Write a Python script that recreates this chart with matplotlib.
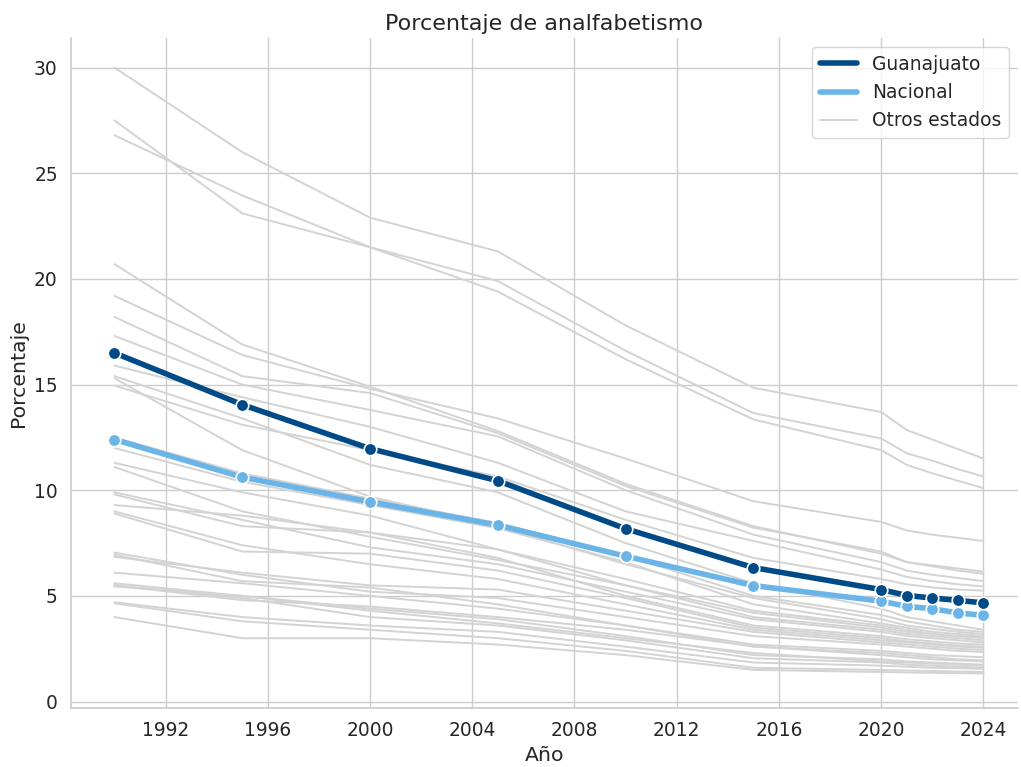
import matplotlib
matplotlib.use("Agg")
import matplotlib.pyplot as plt
import seaborn as sns

years = [1990, 1995, 2000, 2005, 2010, 2015, 2020, 2021, 2022, 2023, 2024]

guanajuato = [16.5, 14.05, 11.97, 10.45, 8.18, 6.34, 5.30, 5.02, 4.90, 4.79, 4.67]
nacional = [12.4, 10.62, 9.45, 8.35, 6.88, 5.49, 4.75, 4.51, 4.39, 4.20, 4.08]

otros_estados = [
    [30.0, 26.0, 22.9, 21.3, 17.8, 14.85, 13.7, 12.85, 12.4, 11.95, 11.5],
    [26.8, 23.95, 21.5, 19.9, 16.6, 13.65, 12.45, 11.75, 11.4, 11.0, 10.65],
    [27.5, 23.1, 21.5, 19.4, 16.2, 13.35, 11.9, 11.2, 10.8, 10.45, 10.1],
    [20.7, 16.9, 14.9, 12.8, 10.3, 8.3, 7.0, 6.6, 6.4, 6.2, 6.05],
    [19.2, 16.4, 14.8, 13.4, 11.5, 9.48, 8.5, 8.1, 7.9, 7.75, 7.6],
    [18.2, 15.4, 14.6, 12.7, 10.2, 8.23, 7.1, 6.6, 6.45, 6.3, 6.15],
    [17.3, 15.0, 13.8, 12.55, 10.0, 7.9, 6.6, 6.2, 6.0, 5.85, 5.7],
    [15.9, 14.4, 13.0, 11.3, 9.0, 7.6, 6.25, 5.9, 5.7, 5.55, 5.45],
    [14.95, 13.1, 11.9, 10.65, 8.6, 6.8, 5.8, 5.55, 5.4, 5.3, 5.25],
    [15.4, 13.4, 11.2, 9.9, 7.5, 5.6, 4.4, 4.0, 3.8, 3.6, 3.4],
    [15.3, 11.9, 9.7, 8.3, 6.5, 4.9, 3.9, 3.6, 3.45, 3.3, 3.2],
    [12.5, 10.8, 9.6, 8.45, 6.9, 5.0, 4.1, 3.8, 3.6, 3.4, 3.3],
    [12.0, 10.4, 9.3, 8.2, 6.6, 4.6, 3.7, 3.5, 3.3, 3.2, 3.1],
    [11.3, 9.9, 8.8, 7.2, 5.8, 4.3, 3.6, 3.4, 3.2, 3.1, 3.0],
    [11.1, 9.0, 7.8, 6.7, 5.5, 4.0, 3.4, 3.2, 3.1, 3.0, 2.9],
    [9.9, 8.6, 7.3, 6.5, 5.2, 3.9, 3.3, 3.1, 3.0, 2.9, 2.8],
    [9.8, 8.3, 8.0, 6.8, 5.0, 3.6, 3.1, 2.95, 2.85, 2.75, 2.7],
    [9.3, 8.8, 8.0, 7.2, 5.5, 4.2, 3.5, 3.3, 3.2, 3.1, 3.05],
    [9.0, 7.4, 6.5, 5.8, 4.6, 3.4, 2.9, 2.8, 2.7, 2.6, 2.55],
    [8.9, 7.1, 7.0, 6.2, 4.9, 3.5, 3.0, 2.85, 2.75, 2.65, 2.6],
    [7.05, 6.0, 5.2, 4.9, 4.0, 3.1, 2.7, 2.6, 2.5, 2.4, 2.35],
    [6.95, 5.7, 5.4, 4.6, 3.6, 2.7, 2.4, 2.3, 2.2, 2.15, 2.1],
    [6.85, 6.1, 5.5, 5.3, 4.3, 3.3, 2.8, 2.7, 2.6, 2.5, 2.45],
    [6.1, 5.6, 5.0, 4.4, 3.6, 2.6, 2.3, 2.2, 2.1, 2.0, 1.95],
    [5.6, 5.0, 4.4, 3.9, 3.1, 2.2, 2.0, 1.9, 1.85, 1.8, 1.75],
    [5.5, 4.8, 4.5, 4.0, 3.4, 2.62, 2.2, 2.1, 2.0, 1.95, 1.9],
    [5.45, 5.0, 4.3, 3.7, 3.0, 2.3, 1.9, 1.85, 1.8, 1.75, 1.7],
    [5.5, 4.9, 4.0, 3.6, 2.9, 2.05, 1.85, 1.75, 1.7, 1.65, 1.6],
    [4.7, 4.0, 3.6, 3.3, 2.6, 1.85, 1.7, 1.65, 1.6, 1.58, 1.55],
    [4.65, 3.8, 3.4, 3.0, 2.4, 1.6, 1.5, 1.47, 1.45, 1.42, 1.4],
    [4.0, 3.0, 3.0, 2.7, 2.2, 1.5, 1.4, 1.38, 1.36, 1.35, 1.33],
]

xticks = [1992, 1996, 2000, 2004, 2008, 2012, 2016, 2020, 2024]
yticks = [0, 5, 10, 15, 20, 25, 30]

sns.set_theme(style="whitegrid", font_scale=1.22)
plt.rcParams["font.family"] = ["DejaVu Sans"]

fig = plt.figure(figsize=(10.21, 7.67), dpi=100)
ax = fig.add_axes([0.0695, 0.077, 0.9275, 0.8735])

for i, serie in enumerate(otros_estados):
    ax.plot(years, serie, color="#d3d3d3", linewidth=1.4, zorder=1,
            label="Otros estados" if i == 0 else None)

ax.plot(years, guanajuato, color="#004a87", linewidth=4, marker="o",
        markersize=9, markeredgecolor="white", markeredgewidth=1.2,
        label="Guanajuato", zorder=4)
ax.plot(years, nacional, color="#6ab4e8", linewidth=4, marker="o",
        markersize=9, markeredgecolor="white", markeredgewidth=1.2,
        label="Nacional", zorder=3)

ax.set_xticks(xticks)
ax.set_yticks(yticks)
ax.set_xlim(1988.3, 2025.35)
ax.set_ylim(-0.3, 31.4)
ax.set_title("Porcentaje de analfabetismo", fontsize=16)
ax.set_xlabel("Año")
ax.set_ylabel("Porcentaje")

handles, labels = ax.get_legend_handles_labels()
order = [labels.index("Guanajuato"), labels.index("Nacional"), labels.index("Otros estados")]
leg = ax.legend([handles[k] for k in order], [labels[k] for k in order], loc="upper right")
for h in leg.get_lines():
    h.set_marker("")

sns.despine(ax=ax)
fig.savefig("out.png", dpi=100)
